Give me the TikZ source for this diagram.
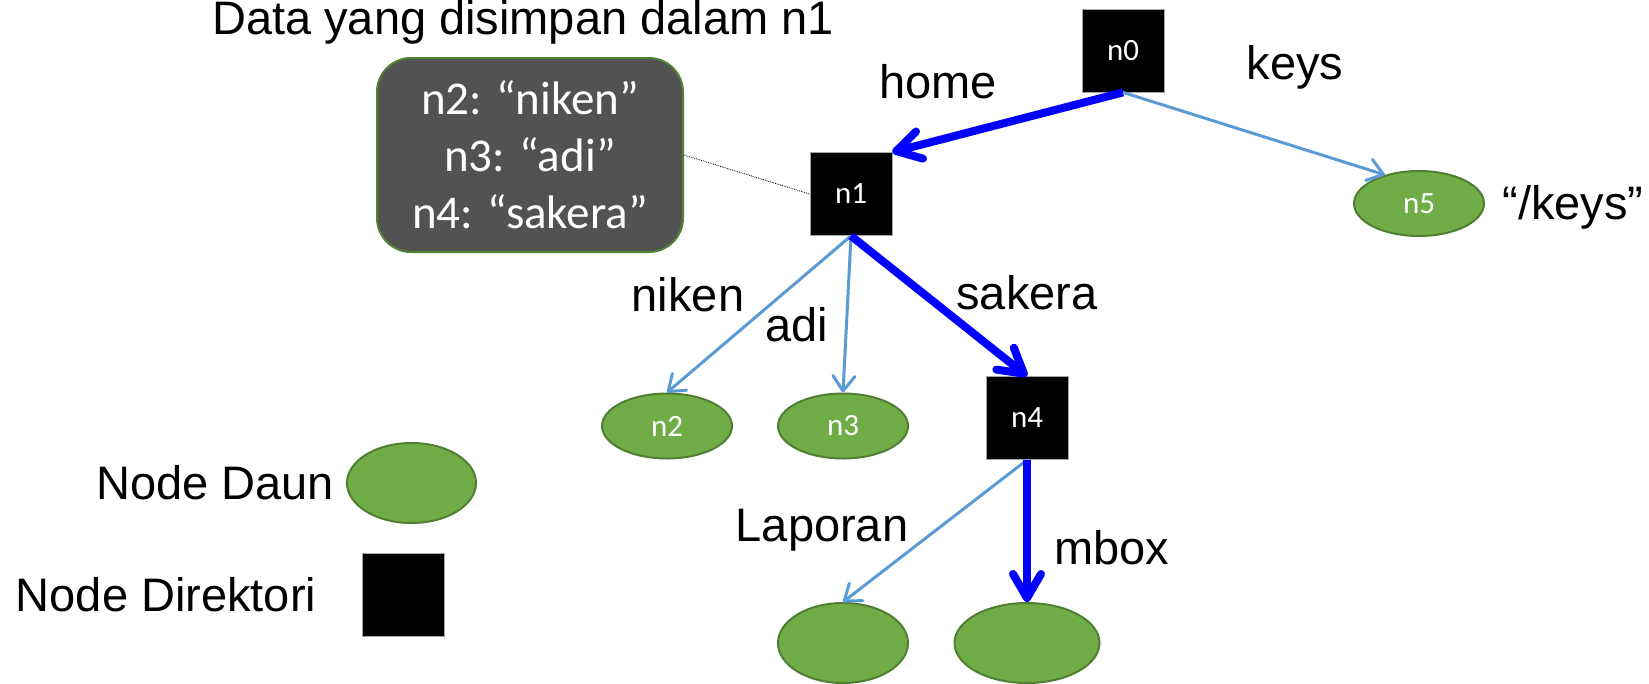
\documentclass[tikz,border=0pt]{standalone}
\usepackage{fontspec}
\setmainfont{Liberation Sans}
\newfontfamily\calibfont{Carlito}
\usetikzlibrary{positioning,shapes.geometric,arrows.meta}
\definecolor{leafgreen}{HTML}{70AD47}
\definecolor{leafline}{HTML}{507E32}
\definecolor{lightblue}{HTML}{5B9BD5}
\definecolor{boxgray}{HTML}{525252}
\definecolor{boxline}{HTML}{548235}
\tikzset{
  dirnode/.style={fill=black, draw=black!35, line width=0.8pt, minimum width=82pt, minimum height=83pt, inner sep=0pt, text=white, font=\calibfont\fontsize{31}{37}\selectfont},
  leafnode/.style={ellipse, fill=leafgreen, draw=leafline, line width=2pt, minimum width=130pt, minimum height=65pt, inner sep=0pt, text=white, font=\calibfont\fontsize{31}{37}\selectfont},
  lbl/.style={font=\fontsize{47}{56}\selectfont, inner sep=0pt},
  thinedge/.style={draw=lightblue, line width=3pt, -{Straight Barb[length=15pt,width=22pt,round]}},
  thickedge/.style={draw=blue, line width=8pt, -{Straight Barb[length=24pt,width=28pt,round]}},
}

\begin{document}
\begin{tikzpicture}[x=1pt, y=1pt, on grid]
  \useasboundingbox (0,0) rectangle (1649,-683);
  \node[dirnode] (n0) at (1123,-50.5) {n0};
  \node[dirnode, below left=143.5pt and 272pt of n0] (n1) {n1};
  \node[leafnode, below right=153pt and 296pt of n0] (n5) {n5};
  \node[leafnode, below left=232pt and 184pt of n1] (n2) {n2};
  \node[leafnode, below left=232pt and 8pt of n1] (n3) {n3};
  \node[dirnode, below right=224pt and 176pt of n1] (n4) {n4};
  \node[leafnode, minimum height=80pt, below left=225pt and 184pt of n4] (nlap) {};
  \node[leafnode, minimum width=145pt, minimum height=80pt, below=225pt of n4] (nmbox) {};
  \node[rounded corners=34pt, fill=boxgray, draw=boxline, line width=2pt, minimum width=306pt, minimum height=194pt, align=center, text=white, font=\calibfont\fontsize{47}{57}\selectfont, above left=39pt and 321pt of n1] (store) {n2: “niken”\\n3: “adi”\\n4: “sakera”};
  \node[dirnode] (legdir) at (403,-594.5) {};
  \node[leafnode, minimum width=129pt, minimum height=80pt, above right=111.5pt and 8.5pt of legdir] (legleaf) {};

  \node[lbl, above left=133pt and 7pt of store] (title) {Data yang disimpan dalam n1};
  \node[lbl, above right=112pt and 87pt of n1] (lhome) {home};
  \node[lbl, below right=16.5pt and 172pt of n0] (lkeys) {keys};
  \node[lbl, below right=3.5pt and 154pt of n5] (lpath) {“/keys”};
  \node[lbl, above right=131pt and 21pt of n2] (lniken) {niken};
  \node[lbl, above left=101pt and 46pt of n3] (ladi) {adi};
  \node[lbl, above=125pt of n4] (lsakera) {sakera};
  \node[lbl, above left=113pt and 21pt of nlap] (llap) {Laporan};
  \node[lbl, above right=95pt and 85pt of nmbox] (lmbox) {mbox};
  \node[lbl, left=196.5pt of legleaf] (ldaun) {Node Daun};
  \node[lbl, left=237pt of legdir] (ldir) {Node Direktori};

  \draw[thickedge] (n0.south) -- (n1.north east);
  \draw[thinedge] (n0.south) -- (n5.140);
  \draw[thinedge] (n1.south) -- (n2.north);
  \draw[thinedge] (n1.south) -- (n3.north);
  \draw[thickedge] (n1.south) -- (n4.north);
  \draw[thinedge] (n4.south) -- (nlap.north);
  \draw[thickedge] (n4.south) -- (nmbox.north);
  \draw[densely dotted, line width=0.8pt] (store.east) -- (n1.west);
\end{tikzpicture}
\end{document}
